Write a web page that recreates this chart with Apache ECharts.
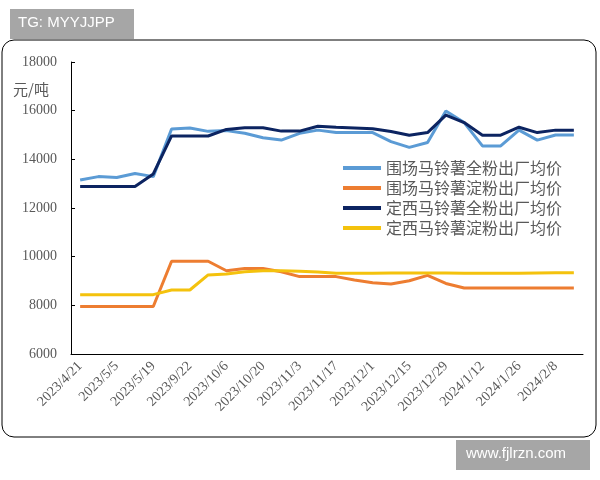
<!DOCTYPE html><html><head><meta charset="utf-8"><script src="https://cdn.jsdelivr.net/npm/echarts@6/dist/echarts.min.js"></script>
<style>body{margin:0}#c{width:600px;height:480px}</style></head><body><div id="c"></div><script>
const categories=['2023/4/21','2023/4/28','2023/5/5','2023/5/12','2023/5/19','2023/9/15','2023/9/22','2023/9/28','2023/10/6','2023/10/13','2023/10/20','2023/10/27','2023/11/3','2023/11/10','2023/11/17','2023/11/24','2023/12/1','2023/12/8','2023/12/15','2023/12/22','2023/12/29','2024/1/5','2024/1/12','2024/1/19','2024/1/26','2024/2/2','2024/2/8','2024/2/15'];
const wcFull=[13150,13290,13250,13420,13290,15250,15290,15150,15180,15070,14890,14790,15070,15200,15100,15100,15100,14730,14490,14690,15990,15510,14550,14550,15200,14790,15000,15000];
const wcStarch=[7950,7950,7950,7950,7950,9810,9810,9810,9420,9510,9510,9380,9180,9180,9180,9040,8930,8880,9010,9230,8900,8710,8710,8710,8710,8710,8710,8710];
const dxFull=[12880,12880,12880,12880,13400,14960,14960,14960,15230,15300,15300,15160,15160,15360,15320,15290,15260,15140,14990,15100,15820,15510,14990,14990,15320,15100,15200,15200];
const dxStarch=[8440,8440,8440,8440,8440,8630,8630,9250,9290,9380,9420,9420,9400,9370,9320,9320,9320,9330,9330,9330,9330,9320,9320,9320,9320,9330,9340,9340];
const names=['围场马铃薯全粉出厂均价','围场马铃薯淀粉出厂均价','定西马铃薯全粉出厂均价','定西马铃薯淀粉出厂均价'];
const colors=['#5b9bd5','#ed7d31','#0c2461','#f4c20d'];
const ch=echarts.init(document.getElementById('c'));
const mk=(n,d,c)=>({name:n,type:'line',data:d,symbol:'none',lineStyle:{width:3,color:c},itemStyle:{color:c},z:n.startsWith('定西马铃薯全')?3:2});
ch.setOption({
 animation:false,
 graphic:[
  {type:'rect',shape:{x:2,y:40,width:594,height:397,r:12},style:{fill:'none',stroke:'#000',lineWidth:1}},
  {type:'rect',shape:{x:10,y:9,width:124,height:30},style:{fill:'#a6a6a6'}},
  {type:'text',left:18,top:15,style:{text:'TG: MYYJJPP',fill:'#fff',font:'15px Liberation Sans'}},
  {type:'rect',shape:{x:456,y:440,width:134,height:30},style:{fill:'#a6a6a6'}},
  {type:'text',left:466,top:446,style:{text:'www.fjlrzn.com',fill:'#fff',font:'15px Liberation Sans'}},
  {type:'text',left:13,top:82,style:{text:'元/吨',fill:'#595959',font:'15px Noto Sans CJK SC'}}
 ],
 legend:{orient:'vertical',left:338,top:155,itemGap:4,itemWidth:38,itemHeight:4,icon:'rect',
  textStyle:{fontSize:16,color:'#595959',fontFamily:'Noto Sans CJK SC'},data:names},
 grid:{left:71,right:17,top:62,bottom:126},
 xAxis:{type:'category',data:categories,boundaryGap:true,
  axisLine:{lineStyle:{color:'#000'}},axisTick:{inside:true,length:4,lineStyle:{color:'#000'}},
  axisLabel:{interval:1,rotate:45,color:'#595959',fontFamily:'Liberation Serif',fontSize:14,margin:10}},
 yAxis:{type:'value',min:6000,max:18000,interval:2000,splitLine:{show:false},
  axisLine:{show:true,lineStyle:{color:'#000'}},axisTick:{show:true,inside:true,length:4,lineStyle:{color:'#000'}},
  axisLabel:{color:'#595959',fontFamily:'Liberation Serif',fontSize:14,margin:14,formatter:v=>String(v)}},
 series:[mk(names[0],wcFull,colors[0]),mk(names[1],wcStarch,colors[1]),mk(names[2],dxFull,colors[2]),mk(names[3],dxStarch,colors[3])]
});
</script></body></html>
